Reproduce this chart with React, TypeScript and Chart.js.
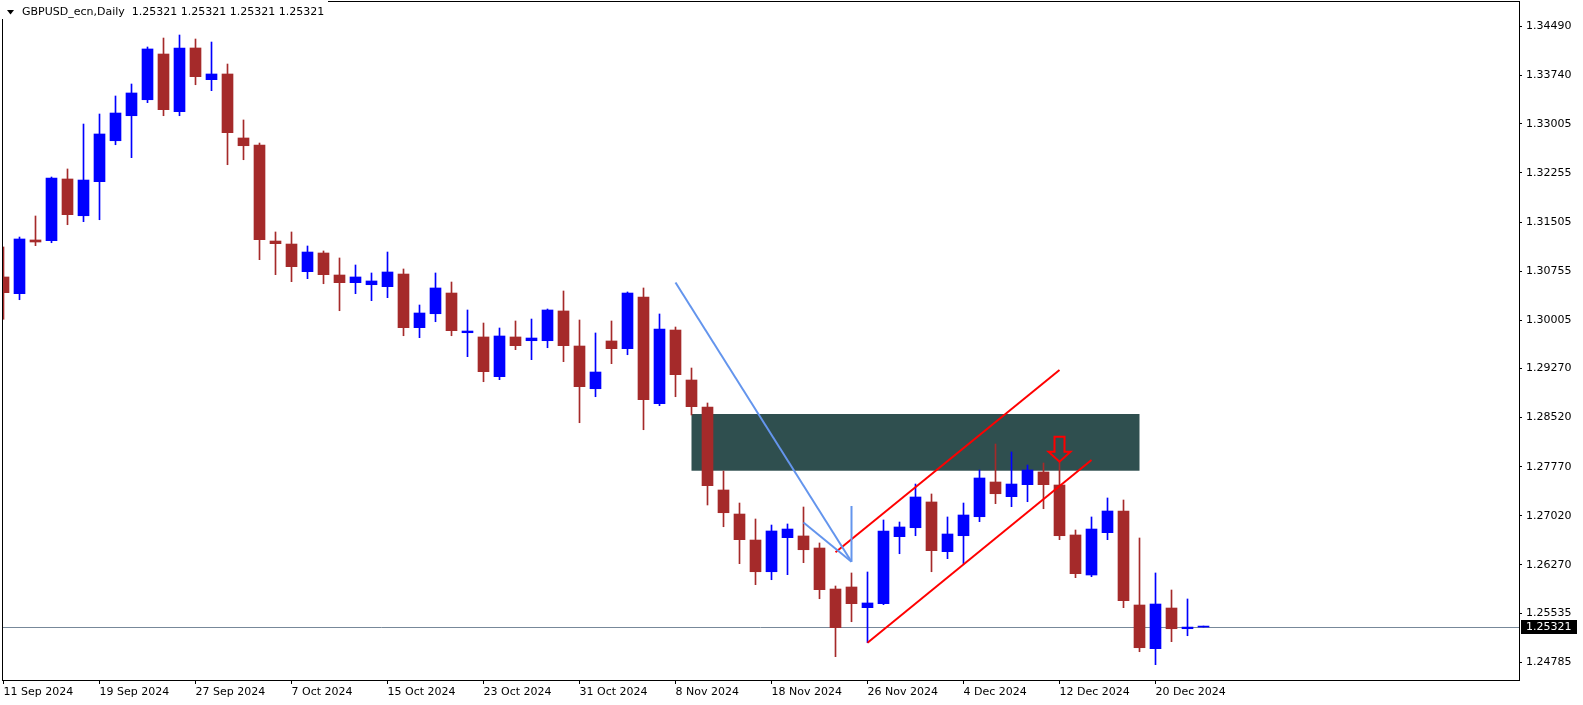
import React, { useEffect, useRef } from "react";
import { Chart, registerables } from "chart.js";

Chart.register(...registerables);

// ---- Data (GBPUSD daily) ----
const sepDays = [11, 12, 13, 16, 17, 18, 19, 20, 23, 24, 25, 26, 27, 30];
const octDays = [1, 2, 3, 4, 7, 8, 9, 10, 11, 14, 15, 16, 17, 18, 21, 22, 23, 24, 25, 28, 29, 30, 31];
const novDays = [1, 4, 5, 6, 7, 8, 11, 12, 13, 14, 15, 18, 19, 20, 21, 22, 25, 26, 27, 28, 29];
const decDays = [2, 3, 4, 5, 6, 9, 10, 11, 12, 13, 16, 17, 18, 19, 20, 23, 24, 26];

const opens = [
  1.30666, 1.30411, 1.31231, 1.3122, 1.32162, 1.31601, 1.32121, 1.32746, 1.33128, 1.33372,
  1.3407, 1.33189, 1.34162, 1.33678, 1.33765, 1.32788, 1.32681, 1.31215, 1.31169, 1.30747,
  1.31032, 1.30696, 1.30579, 1.30548, 1.30518, 1.30711, 1.29892, 1.30105, 1.30421, 1.29815,
  1.2975, 1.29144, 1.2975, 1.29693, 1.29693, 1.30147, 1.29612, 1.2896, 1.29689, 1.29571,
  1.3036, 1.28731, 1.29856, 1.29093, 1.28681, 1.27414, 1.27047, 1.2665, 1.26166, 1.26686,
  1.26712, 1.26528, 1.25902, 1.25933, 1.25617, 1.25678, 1.26701, 1.26838, 1.27231, 1.26472,
  1.26716, 1.27006, 1.27536, 1.27312, 1.27495, 1.27689, 1.2749, 1.26727, 1.26116, 1.26762,
  1.27093, 1.25658, 1.24991, 1.25612, 1.25296, 1.25321,
];
const highs = [
  1.31124, 1.31276, 1.31597, 1.32192, 1.32315, 1.33001, 1.33154, 1.33429, 1.33612, 1.34177,
  1.34314, 1.3436, 1.34299, 1.34253, 1.33917, 1.33063, 1.32711, 1.31353, 1.31353, 1.31139,
  1.31063, 1.30956, 1.30849, 1.30727, 1.31047, 1.30788, 1.30238, 1.30727, 1.30589, 1.30162,
  1.29963, 1.29887, 1.29994, 1.30024, 1.30177, 1.30452, 1.30009, 1.29811, 1.29994, 1.30437,
  1.30498, 1.30101, 1.29902, 1.29276, 1.28742, 1.27704, 1.27215, 1.26971, 1.26879, 1.26895,
  1.27154, 1.26605, 1.25948, 1.26147, 1.26162, 1.26956, 1.26925, 1.27505, 1.27353, 1.27002,
  1.27215, 1.27719, 1.28116, 1.27994, 1.27795, 1.27826, 1.27857, 1.26803, 1.27002, 1.27292,
  1.27261, 1.26681, 1.26147, 1.25887, 1.2575, 1.25321,
];
const lows = [
  1.3002, 1.30319, 1.31144, 1.31189, 1.31464, 1.3151, 1.3154, 1.32685, 1.32487, 1.33327,
  1.33128, 1.33128, 1.33601, 1.3351, 1.3238, 1.32456, 1.3093, 1.30701, 1.30594, 1.3064,
  1.30563, 1.30151, 1.30411, 1.30304, 1.3035, 1.29769, 1.29739, 1.29983, 1.29769, 1.29449,
  1.29067, 1.29098, 1.29556, 1.29403, 1.29586, 1.29373, 1.28441, 1.28838, 1.29342, 1.29479,
  1.28334, 1.28701, 1.28838, 1.28559, 1.27185, 1.26853, 1.26289, 1.25968, 1.26044, 1.26121,
  1.26304, 1.25754, 1.24869, 1.25403, 1.25082, 1.25663, 1.26441, 1.26716, 1.26166, 1.26365,
  1.26289, 1.2693, 1.27205, 1.27159, 1.27235, 1.27128, 1.26655, 1.26075, 1.2609, 1.26655,
  1.25617, 1.24945, 1.24747, 1.25098, 1.25189, 1.25321,
];
const closes = [
  1.30426, 1.31246, 1.312, 1.32177, 1.31617, 1.32146, 1.32849, 1.33169, 1.33475, 1.34147,
  1.3322, 1.34162, 1.33724, 1.33765, 1.32869, 1.3267, 1.31235, 1.31174, 1.30823, 1.31047,
  1.30701, 1.30579, 1.30666, 1.30605, 1.30742, 1.29892, 1.30116, 1.30498, 1.29846, 1.29841,
  1.2922, 1.29765, 1.29617, 1.29734, 1.30162, 1.29617, 1.28991, 1.29215, 1.29571, 1.30421,
  1.28792, 1.29872, 1.29174, 1.28686, 1.27479, 1.27067, 1.26655, 1.26166, 1.26788, 1.26818,
  1.26502, 1.25892, 1.25312, 1.25678, 1.25689, 1.26788, 1.26849, 1.27307, 1.26487, 1.26742,
  1.27032, 1.27597, 1.27357, 1.27505, 1.27719, 1.27495, 1.26716, 1.26136, 1.26818, 1.27093,
  1.25724, 1.25006, 1.25673, 1.25296, 1.25321, 1.25321,
];

const yTickValues = [
  1.24785, 1.25535, 1.2627, 1.2702, 1.2777, 1.2852, 1.2927, 1.30005, 1.30755, 1.31505,
  1.32255, 1.33005, 1.3374, 1.3449,
];
const xTickIndices = [0, 6, 12, 18, 24, 30, 36, 42, 48, 54, 60, 66, 72];

const symbolTitle = "GBPUSD_ecn,Daily";
const lastPrice = 1.25321;

// Drawn objects (bar index / price)
const zoneStart = 43;
const zoneEnd = 71;
const zoneTop = 1.28574;
const zoneBottom = 1.27708;
const blueLine1 = [{ x: 42, y: 1.30582 }, { x: 53, y: 1.26319 }];
const blueLine2 = [{ x: 50, y: 1.26918 }, { x: 53, y: 1.26319 }];
const blueLine3 = [{ x: 53, y: 1.27169 }, { x: 53, y: 1.26319 }];
const redUpper = [{ x: 52, y: 1.26463 }, { x: 66, y: 1.29246 }];
const redLower = [{ x: 54, y: 1.25082 }, { x: 68, y: 1.27872 }];
const arrowBar = 66;
const arrowPrice = 1.27846;

// ---- Build tables ----
const monthDates = (days: number[], m: string) => days.map((d) => `${d} ${m} 2024`);
const dates = [
  ...monthDates(sepDays, "Sep"),
  ...monthDates(octDays, "Oct"),
  ...monthDates(novDays, "Nov"),
  ...monthDates(decDays, "Dec"),
];

const BULL = "#0000FF";
const BEAR = "#A52A2A";
const FONT = "'DejaVu Sans', sans-serif";

export default function App() {
  const ref = useRef<HTMLCanvasElement | null>(null);

  useEffect(() => {
    document.body.style.margin = "0";
    const canvas = ref.current;
    if (!canvas) return;
    Chart.defaults.font.family = FONT;
    Chart.defaults.font.size = 11;
    Chart.defaults.color = "#000";

    const colors = opens.map((o, i) => (closes[i] >= o ? BULL : BEAR));
    const wickData = opens.map((_, i) => ({ x: i, y: [lows[i], highs[i]] }));
    const bodyData = opens.map((o, i) => ({ x: i, y: [o, closes[i]] }));

    const lineDs = (data: any[], color: string) => ({
      type: "line" as const,
      data,
      borderColor: color,
      borderWidth: 2,
      pointRadius: 0,
      fill: false,
      tension: 0,
      order: 0,
    });

    const mt4Plugin = {
      id: "mt4",
      beforeDatasetsDraw(chart: any) {
        const { ctx, chartArea: a, scales } = chart;
        const x = scales.x;
        const y = scales.y;
        ctx.save();
        const zx0 = x.getPixelForValue(zoneStart);
        const zx1 = x.getPixelForValue(zoneEnd);
        const zy0 = y.getPixelForValue(zoneTop);
        const zy1 = y.getPixelForValue(zoneBottom);
        ctx.fillStyle = "#2F4F4F";
        ctx.fillRect(zx0, zy0, zx1 - zx0, zy1 - zy0);
        const py = Math.round(y.getPixelForValue(lastPrice)) + 0.5;
        ctx.strokeStyle = "#778899";
        ctx.lineWidth = 1;
        ctx.beginPath();
        ctx.moveTo(a.left, py);
        ctx.lineTo(a.right, py);
        ctx.stroke();
        ctx.restore();
      },
      afterDatasetsDraw(chart: any) {
        const { ctx, scales } = chart;
        const tx = scales.x.getPixelForValue(arrowBar);
        const ty = scales.y.getPixelForValue(arrowPrice);
        ctx.save();
        ctx.strokeStyle = "#FF0000";
        ctx.lineWidth = 2;
        ctx.beginPath();
        ctx.moveTo(tx - 5, ty - 25);
        ctx.lineTo(tx + 5, ty - 25);
        ctx.lineTo(tx + 5, ty - 10);
        ctx.lineTo(tx + 11, ty - 10);
        ctx.lineTo(tx, ty);
        ctx.lineTo(tx - 11, ty - 10);
        ctx.lineTo(tx - 5, ty - 10);
        ctx.closePath();
        ctx.stroke();
        ctx.restore();
      },
      afterDraw(chart: any) {
        const { ctx, chartArea: a, scales } = chart;
        ctx.save();
        // frame
        ctx.strokeStyle = "#000";
        ctx.lineWidth = 1;
        ctx.strokeRect(a.left + 0.5, a.top - 0.5, a.right - a.left, a.bottom - a.top + 1);
        // header
        ctx.fillStyle = "#FFF";
        ctx.fillRect(0, 0, 328, 19);
        ctx.fillStyle = "#000";
        ctx.beginPath();
        ctx.moveTo(7, 10);
        ctx.lineTo(14, 10);
        ctx.lineTo(10.5, 14.5);
        ctx.closePath();
        ctx.fill();
        ctx.font = `11px ${FONT}`;
        ctx.textBaseline = "middle";
        ctx.textAlign = "left";
        const p = lastPrice.toFixed(5);
        ctx.fillText(`${symbolTitle}  ${p} ${p} ${p} ${p}`, 22, 12.5);
        // last price label
        const py = Math.round(scales.y.getPixelForValue(lastPrice));
        ctx.fillStyle = "#000";
        ctx.fillRect(a.right + 2, py - 7, 56, 14);
        ctx.fillStyle = "#FFF";
        ctx.fillText(p, a.right + 7, py + 0.5);
        ctx.restore();
      },
    };

    const chart = new Chart(canvas, {
      type: "bar",
      data: {
        datasets: [
          lineDs(blueLine1, "#6495ED"),
          lineDs(blueLine2, "#6495ED"),
          lineDs(blueLine3, "#6495ED"),
          lineDs(redUpper, "#FF0000"),
          lineDs(redLower, "#FF0000"),
          {
            type: "bar",
            data: bodyData,
            backgroundColor: colors,
            borderWidth: 0,
            barThickness: 11,
            grouped: false,
            minBarLength: 1,
            order: 2,
          },
          {
            type: "bar",
            data: wickData,
            backgroundColor: colors,
            borderWidth: 0,
            barThickness: 1,
            grouped: false,
            minBarLength: 1,
            order: 3,
          },
        ] as any,
      },
      options: {
        animation: false,
        responsive: false,
        maintainAspectRatio: false,
        devicePixelRatio: 1,
        events: [],
        layout: { padding: { left: 2, top: 2, right: 0, bottom: 0 } },
        plugins: { legend: { display: false }, tooltip: { enabled: false } },
        scales: {
          x: {
            type: "linear",
            min: -0.09375,
            max: 94.71875,
            offset: false,
            bounds: "data",
            grid: { drawOnChartArea: false, drawTicks: true, tickLength: 4, color: "#000", offset: false },
            border: { display: false },
            ticks: {
              autoSkip: false,
              maxRotation: 0,
              minRotation: 0,
              align: "start",
              padding: 2,
              color: "#000",
              font: { family: FONT, size: 11 },
              callback: (v: any) => dates[v as number] ?? "",
            },
            afterBuildTicks: (s: any) => {
              s.ticks = xTickIndices.map((v) => ({ value: v }));
            },
            afterFit: (s: any) => {
              s.height = 25;
              s.paddingLeft = 0;
              s.paddingRight = 0;
              s.paddingTop = 0;
              s.paddingBottom = 0;
            },
          },
          y: {
            type: "linear",
            position: "right",
            min: 1.24513,
            max: 1.34864,
            beginAtZero: false,
            bounds: "data",
            grid: { drawOnChartArea: false, drawTicks: true, tickLength: 3, color: "#000" },
            border: { display: false },
            ticks: {
              autoSkip: false,
              padding: 4,
              color: "#000",
              font: { family: FONT, size: 11 },
              callback: (v: any) => Number(v).toFixed(5),
            },
            afterBuildTicks: (s: any) => {
              s.ticks = yTickValues.map((v) => ({ value: v }));
            },
            afterFit: (s: any) => {
              s.width = 64;
              s.paddingLeft = 0;
              s.paddingRight = 0;
              s.paddingTop = 0;
              s.paddingBottom = 0;
            },
          },
        },
      } as any,
      plugins: [mt4Plugin],
    });

    return () => chart.destroy();
  }, []);

  return (
    <div style={{ position: "fixed", left: 0, top: 0, width: 1583, height: 705, background: "#fff" }}>
      <canvas ref={ref} width={1583} height={705} style={{ display: "block", width: 1583, height: 705 }} />
    </div>
  );
}
